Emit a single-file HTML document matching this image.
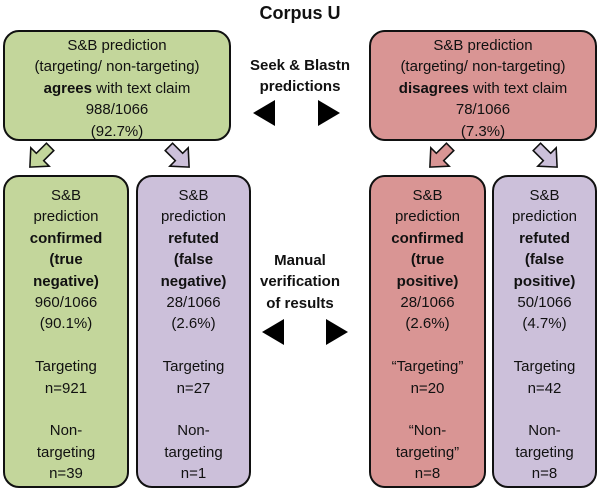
<!DOCTYPE html>
<html><head><meta charset="utf-8"><style>
body{margin:0;width:600px;height:491px;background:#fff;position:relative;font-family:"Liberation Sans",sans-serif;color:#111;overflow:hidden}
.b{position:absolute;box-sizing:border-box;border:2px solid #111;border-radius:16px;text-align:center;font-size:15px;line-height:21.4px}
.g{background:#c3d69b}.r{background:#d99594}.p{background:#ccc0da}
.t{position:absolute;text-align:center;font-weight:bold;font-size:15px;line-height:21.4px}
b{font-weight:bold}
svg{position:absolute;left:0;top:0}
</style></head><body>
<div class="t" style="left:200px;top:3px;width:200px;font-size:18px">Corpus U</div>
<div class="b g" style="left:3px;top:30px;width:228px;height:111px;padding-top:3px">S&amp;B prediction<br>(targeting/ non-targeting)<br><b>agrees</b> with text claim<br>988/1066<br>(92.7%)</div>
<div class="b r" style="left:369px;top:30px;width:228px;height:111px;padding-top:3px">S&amp;B prediction<br>(targeting/ non-targeting)<br><b>disagrees</b> with text claim<br>78/1066<br>(7.3%)</div>
<div class="t" style="left:235px;top:55px;width:130px">Seek &amp; Blastn<br>predictions</div>
<div class="t" style="left:235px;top:250px;width:130px">Manual<br>verification<br>of results</div>
<div class="b g" style="left:3px;top:175px;width:126px;height:313px;padding-top:8px">S&amp;B<br>prediction<br><b>confirmed<br>(true<br>negative)</b><br>960/1066<br>(90.1%)<br><br>Targeting<br>n=921<br><br>Non-<br>targeting<br>n=39</div>
<div class="b p" style="left:136px;top:175px;width:115px;height:313px;padding-top:8px">S&amp;B<br>prediction<br><b>refuted<br>(false<br>negative)</b><br>28/1066<br>(2.6%)<br><br>Targeting<br>n=27<br><br>Non-<br>targeting<br>n=1</div>
<div class="b r" style="left:369px;top:175px;width:117px;height:313px;padding-top:8px">S&amp;B<br>prediction<br><b>confirmed<br>(true<br>positive)</b><br>28/1066<br>(2.6%)<br><br>“Targeting”<br>n=20<br><br>“Non-<br>targeting”<br>n=8</div>
<div class="b p" style="left:492px;top:175px;width:105px;height:313px;padding-top:8px">S&amp;B<br>prediction<br><b>refuted<br>(false<br>positive)</b><br>50/1066<br>(4.7%)<br><br>Targeting<br>n=42<br><br>Non-<br>targeting<br>n=8</div>
<svg width="600" height="491">
<defs><path id="a" d="M-4,-11 L4,-11 L4,0 L10,0 L0,11 L-10,0 L-4,0 Z" stroke="#111" stroke-width="1.2" stroke-linejoin="miter"/></defs>
<use href="#a" transform="translate(40,157) rotate(45) scale(1.3)" fill="#c3d69b"/>
<use href="#a" transform="translate(179,157) rotate(-45) scale(1.3)" fill="#ccc0da"/>
<use href="#a" transform="translate(440,157) rotate(45) scale(1.3)" fill="#d99594"/>
<use href="#a" transform="translate(547,157) rotate(-45) scale(1.3)" fill="#ccc0da"/>
<polygon points="275,100 275,126 253,113" fill="#000"/>
<polygon points="318,100 318,126 340,113" fill="#000"/>
<polygon points="284,319 284,345 262,332" fill="#000"/>
<polygon points="326,319 326,345 348,332" fill="#000"/>
</svg>
</body></html>
